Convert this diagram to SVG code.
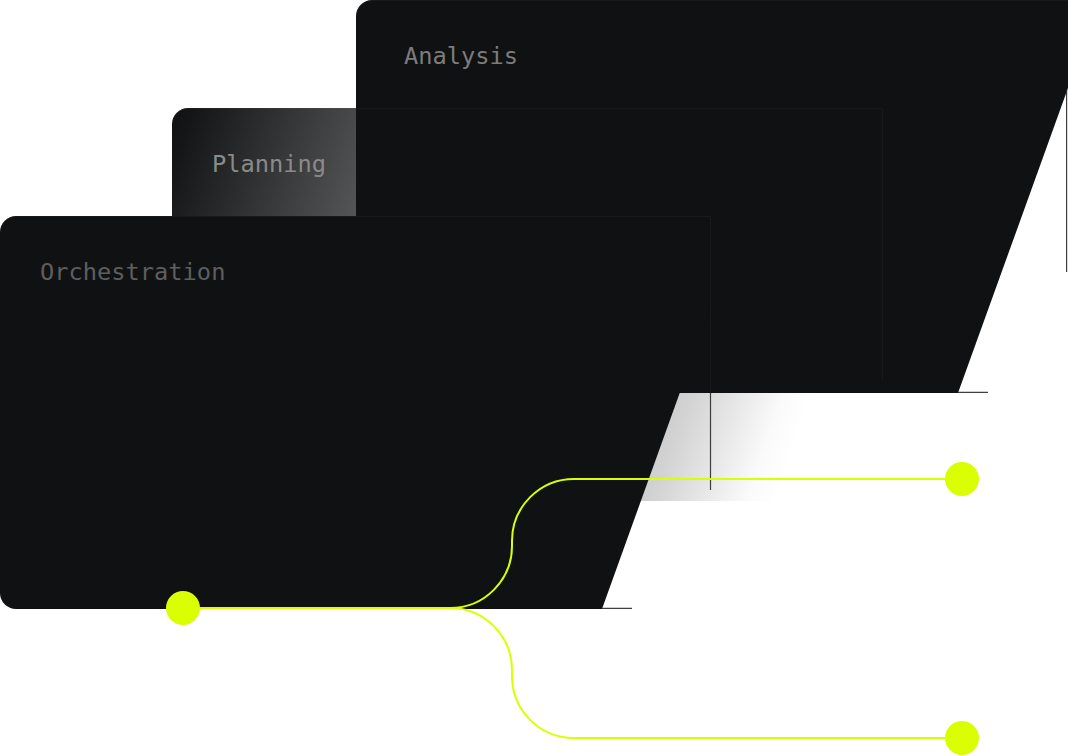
<svg xmlns="http://www.w3.org/2000/svg" width="1068" height="756" viewBox="0 0 1068 756">
  <defs>
    <linearGradient id="planFade" gradientUnits="userSpaceOnUse" x1="172" y1="108" x2="832" y2="344">
      <stop offset="0" stop-color="#101112" stop-opacity="1"/>
      <stop offset="0.025" stop-color="#101112" stop-opacity="0.985"/>
      <stop offset="0.84" stop-color="#101112" stop-opacity="0.18"/>
      <stop offset="0.96" stop-color="#101112" stop-opacity="0.02"/>
      <stop offset="1" stop-color="#101112" stop-opacity="0"/>
    </linearGradient>
  </defs>
  <style>
    .card { fill: #101112; }
    .edge { fill: none; stroke: #ffffff; stroke-opacity: 0.035; stroke-width: 1; }
    .grit { fill: none; stroke: #2a2a2a; stroke-width: 1.2; stroke-opacity: 0.9; }
    .label { font-family: "DejaVu Sans Mono", "Liberation Mono", monospace; font-size: 23.7px; }
    .wire { fill: none; stroke: #d9ff00; stroke-width: 2; }
    .dot { fill: #d9ff00; }
  </style>
  <rect x="0" y="0" width="1068" height="756" fill="#ffffff"/>

  <g id="analysis">
    <path class="card" d="M356,16 A16 16 0 0 1 372,0 H1068 V88 L958,393 H372 A16 16 0 0 1 356,377 Z"/>
    <path class="edge" d="M356.5,16 A16 16 0 0 1 372,0.5 H1068"/>
    <path class="grit" d="M1066.6,90 V272 M958,392.4 H988"/>
    <text class="label" x="404" y="64" fill="#7c7c7c">Analysis</text>
  </g>

  <g id="planning">
    <path d="M172,124 A16 16 0 0 1 188,108 H883 V198 L774,501 H188 A16 16 0 0 1 172,485 Z" fill="url(#planFade)"/>
    <path class="edge" d="M172.5,124 A16 16 0 0 1 188,108.5 H882.5 V380"/>
    <text class="label" x="212" y="172" fill="#8a8a8a">Planning</text>
  </g>

  <g id="orchestration">
    <path class="card" d="M0,232 A16 16 0 0 1 16,216 H711 V306 L602,609 H16 A16 16 0 0 1 0,593 Z"/>
    <path class="edge" d="M0.5,232 A16 16 0 0 1 16,216.5 H710.5 V392"/>
    <path class="grit" d="M710.5,393 V490 M602,608.4 H632"/>
    <text class="label" x="40" y="280" fill="#5e5e5e">Orchestration</text>
  </g>

  <g id="connectors">
    <path class="wire" d="M183,608 H450 A62 62 0 0 0 512 546 V541 A62 62 0 0 1 574 479 H962"/>
    <path class="wire" d="M450,608 A62 62 0 0 1 512 670 V676 A62 62 0 0 0 574 738 H962"/>
  </g>

  <g id="dot-source">
    <circle class="dot" cx="183" cy="608" r="17"/>
  </g>
  <g id="dot-upper">
    <circle class="dot" cx="962" cy="479" r="17"/>
  </g>
  <g id="dot-lower">
    <circle class="dot" cx="962" cy="738" r="17"/>
  </g>
</svg>
